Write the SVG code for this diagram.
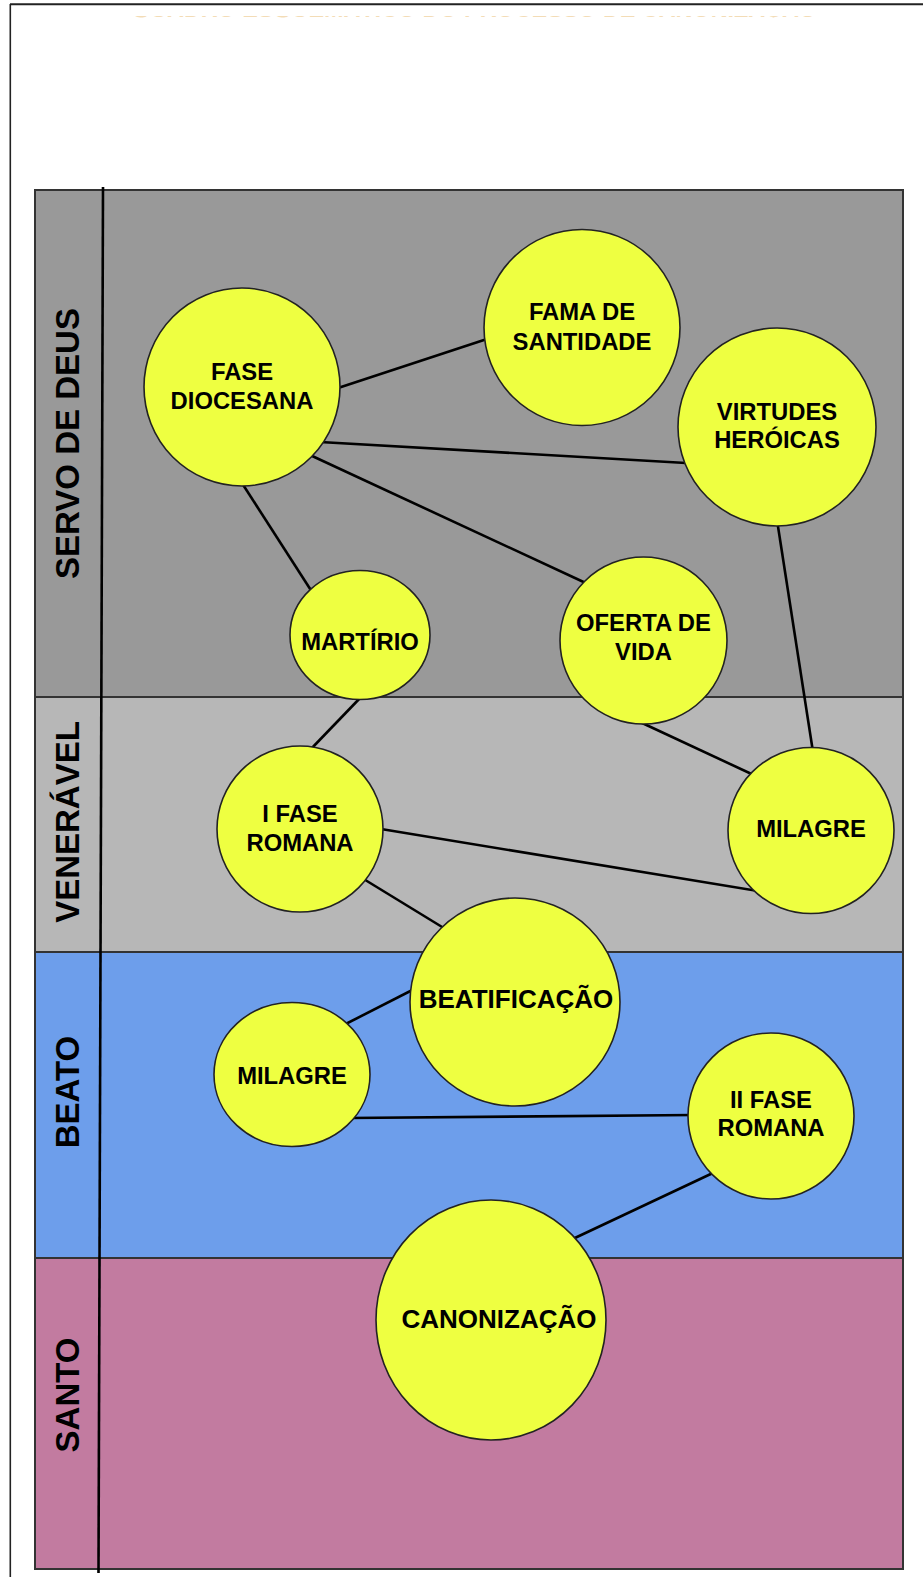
<svg xmlns="http://www.w3.org/2000/svg" width="923" height="1577" viewBox="0 0 923 1577">
<style>
.band{stroke:#333;stroke-width:2}
.lane{font-family:"Liberation Sans",Arial,sans-serif;font-weight:bold;font-size:33px;fill:#000;text-anchor:middle}
.node ellipse{fill:#eeff41;stroke:#222;stroke-width:1.6}
.node text{font-family:"Liberation Sans",Arial,sans-serif;font-weight:bold;font-size:23.8px;fill:#000;text-anchor:middle}
.node text.big{font-size:26px}
.edge{stroke:#000;stroke-width:2.6;fill:none}
</style>
<defs>
<clipPath id="titleclip"><rect x="0" y="16" width="923" height="1.6"/></clipPath>
</defs>
<rect x="0" y="0" width="923" height="1577" fill="#fff"/>
<g id="frame">
<line x1="10" y1="4.3" x2="923" y2="4.3" stroke="#222" stroke-width="2"/>
<line x1="10.3" y1="4" x2="10.3" y2="1577" stroke="#222" stroke-width="1.6"/>
</g>
<g id="title" clip-path="url(#titleclip)">
<text x="132" y="17.4" textLength="685" lengthAdjust="spacingAndGlyphs" font-family="Liberation Sans, Arial, sans-serif" font-weight="bold" font-size="22" fill="#f3dcb6">QUADRO ESQUEMÁTICO DO PROCESSO DE CANONIZAÇÃO</text>
</g>
<g id="lanes">
<rect class="band" x="35" y="190" width="868" height="507" fill="#999999"/>
<rect class="band" x="35" y="697" width="868" height="255" fill="#b7b7b7"/>
<rect class="band" x="35" y="952" width="868" height="306" fill="#6d9eeb"/>
<rect class="band" x="35" y="1258" width="868" height="311" fill="#c27ba0"/>
<line x1="103" y1="187" x2="98.5" y2="1573" stroke="#000" stroke-width="2.6"/>
<text class="lane" transform="translate(78.5,443.5) rotate(-90)">SERVO DE DEUS</text>
<text class="lane" transform="translate(78.5,822) rotate(-90)">VENERÁVEL</text>
<text class="lane" transform="translate(78.5,1092) rotate(-90)">BEATO</text>
<text class="lane" transform="translate(78.5,1395) rotate(-90)">SANTO</text>
</g>
<g id="connectors">
<line class="edge" x1="335" y1="389" x2="490" y2="338"/>
<line class="edge" x1="320" y1="442" x2="686" y2="463"/>
<line class="edge" x1="310" y1="455" x2="590" y2="585"/>
<line class="edge" x1="240" y1="480" x2="314" y2="595"/>
<line class="edge" x1="362" y1="696" x2="310" y2="750"/>
<line class="edge" x1="640" y1="722" x2="758" y2="777"/>
<line class="edge" x1="777" y1="520" x2="813" y2="752"/>
<line class="edge" x1="378" y1="828.5" x2="770" y2="893"/>
<line class="edge" x1="362" y1="878" x2="447" y2="930"/>
<line class="edge" x1="330" y1="1032" x2="430" y2="981"/>
<line class="edge" x1="348" y1="1118" x2="694" y2="1115"/>
<line class="edge" x1="715" y1="1172" x2="560" y2="1245"/>
</g>
<g id="fase-diocesana" class="node">
<ellipse cx="242" cy="387" rx="98" ry="99"/>
<text x="242" y="380">FASE</text>
<text x="242" y="409">DIOCESANA</text>
</g>
<g id="fama-de-santidade" class="node">
<ellipse cx="582" cy="327.5" rx="98" ry="98"/>
<text x="582" y="320">FAMA DE</text>
<text x="582" y="349.5">SANTIDADE</text>
</g>
<g id="virtudes-heroicas" class="node">
<ellipse cx="777" cy="427" rx="99" ry="99"/>
<text x="777" y="419.5">VIRTUDES</text>
<text x="777" y="448">HERÓICAS</text>
</g>
<g id="martirio" class="node">
<ellipse cx="360" cy="635" rx="70" ry="64.5"/>
<text x="360" y="649.5">MARTÍRIO</text>
</g>
<g id="oferta-de-vida" class="node">
<ellipse cx="643.5" cy="640.5" rx="83.5" ry="83.5"/>
<text x="643.5" y="631">OFERTA DE</text>
<text x="643.5" y="660">VIDA</text>
</g>
<g id="i-fase-romana" class="node">
<ellipse cx="300" cy="829" rx="83" ry="83"/>
<text x="300" y="822">I FASE</text>
<text x="300" y="851">ROMANA</text>
</g>
<g id="milagre-veneravel" class="node">
<ellipse cx="811" cy="830.5" rx="83" ry="83"/>
<text x="811" y="837">MILAGRE</text>
</g>
<g id="beatificacao" class="node">
<ellipse cx="515" cy="1002" rx="105" ry="104"/>
<text class="big" x="516" y="1008">BEATIFICAÇÃO</text>
</g>
<g id="milagre-beato" class="node">
<ellipse cx="292" cy="1074.5" rx="78" ry="72"/>
<text x="292" y="1084">MILAGRE</text>
</g>
<g id="ii-fase-romana" class="node">
<ellipse cx="771" cy="1116" rx="83" ry="83"/>
<text x="771" y="1107.5">II FASE</text>
<text x="771" y="1136">ROMANA</text>
</g>
<g id="canonizacao" class="node">
<ellipse cx="491" cy="1320" rx="115" ry="120"/>
<text class="big" x="499" y="1328">CANONIZAÇÃO</text>
</g>
</svg>
